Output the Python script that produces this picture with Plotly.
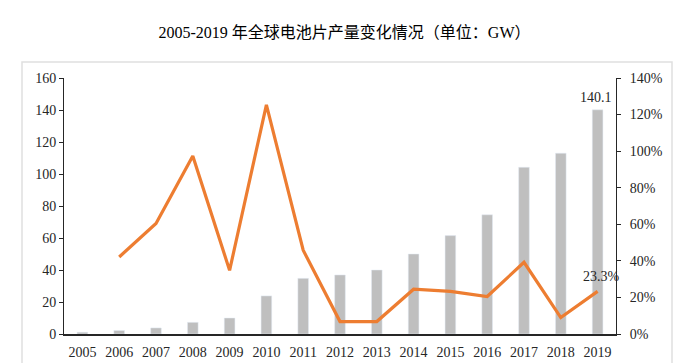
import plotly.graph_objects as go

years = [str(y) for y in range(2005, 2020)]
production_gw = [1.1, 2.2, 3.8, 7.3, 10.0, 23.8, 34.8, 36.9, 40.0, 50.0, 61.5, 74.5, 104.2, 113.0, 140.1]
growth_pct = [None, 42.1, 60.4, 97.4, 34.8, 125.3, 45.8, 6.8, 6.8, 24.5, 23.3, 20.5, 39.2, 9.0, 23.3]

growth = [None if g is None else g / 100 for g in growth_pct]

font_latin = "Liberation Serif, 'Times New Roman', serif"

W, H = 673, 355           # page body has 8px margin
L, R, T, B = 56, 65, 70, 29
pw, ph = W - L - R, H - T - B

fig = go.Figure()
fig.add_trace(go.Bar(
    x=years, y=production_gw, marker_color="#BFBFBF", width=0.29,
    name="产量", yaxis="y", hoverinfo="x+y",
))
fig.add_trace(go.Scatter(
    x=years, y=growth, mode="lines", line=dict(color="#ED7D31", width=3.2),
    name="增速", yaxis="y2", connectgaps=False,
))

fig.update_layout(
    width=W, height=H,
    margin=dict(l=L, r=R, t=T, b=B, pad=0, autoexpand=False),
    paper_bgcolor="white", plot_bgcolor="white",
    showlegend=False,
    font=dict(family=font_latin, size=14, color="#262626"),
    title=dict(
        text="2005-2019 年全球电池片产量变化情况（单位：GW）",
        x=0.5, xanchor="center", y=1 - 24 / H, yanchor="middle",
        yref="container",
        font=dict(family="Liberation Serif, 'Noto Sans CJK SC', serif", size=16, color="#000000"),
    ),
    xaxis=dict(
        type="category", range=[-0.5, len(years) - 0.5], autorange=False, automargin=False,
        showgrid=False, showline=True, linecolor="#262626", linewidth=1.5,
        ticks="", tickfont=dict(size=14), zeroline=False, ticklabelstandoff=4,
    ),
    yaxis=dict(
        range=[0, 160], dtick=20, showgrid=False, showline=True, linecolor="#262626", linewidth=1,
        ticks="outside", ticklen=4, tickcolor="#262626", zeroline=False, automargin=False,
        tickfont=dict(size=14),
    ),
    yaxis2=dict(
        range=[0, 1.4], dtick=0.2, tickformat=".0%", overlaying="y", side="right",
        showgrid=False, showline=True, linecolor="#262626", linewidth=1,
        ticks="outside", ticklen=4, tickcolor="#262626", zeroline=False, automargin=False,
        tickfont=dict(size=14), ticklabelstandoff=6,
    ),
    bargap=0.7,
)

fig.add_shape(type="rect", xref="paper", yref="paper",
              x0=(14 - L) / pw, x1=(664 - L) / pw,
              y0=-(B + 20) / ph, y1=1 + (T - 54) / ph,
              line=dict(color="#E0E0E0", width=1.5), fillcolor="rgba(0,0,0,0)", layer="below")

last = len(years) - 1
fig.add_annotation(x=last, y=production_gw[-1], xref="x", yref="y", text=f"{production_gw[-1]:.1f}",
                   showarrow=False, yanchor="bottom", yshift=3, xshift=-2,
                   font=dict(family=font_latin, size=14, color="#262626"))
fig.add_annotation(x=last, y=growth[-1], xref="x", yref="y2", text=f"{growth_pct[-1]:.1f}%",
                   showarrow=False, yanchor="bottom", yshift=5, xshift=4,
                   font=dict(family=font_latin, size=14, color="#262626"))

fig.write_html("out.html")
